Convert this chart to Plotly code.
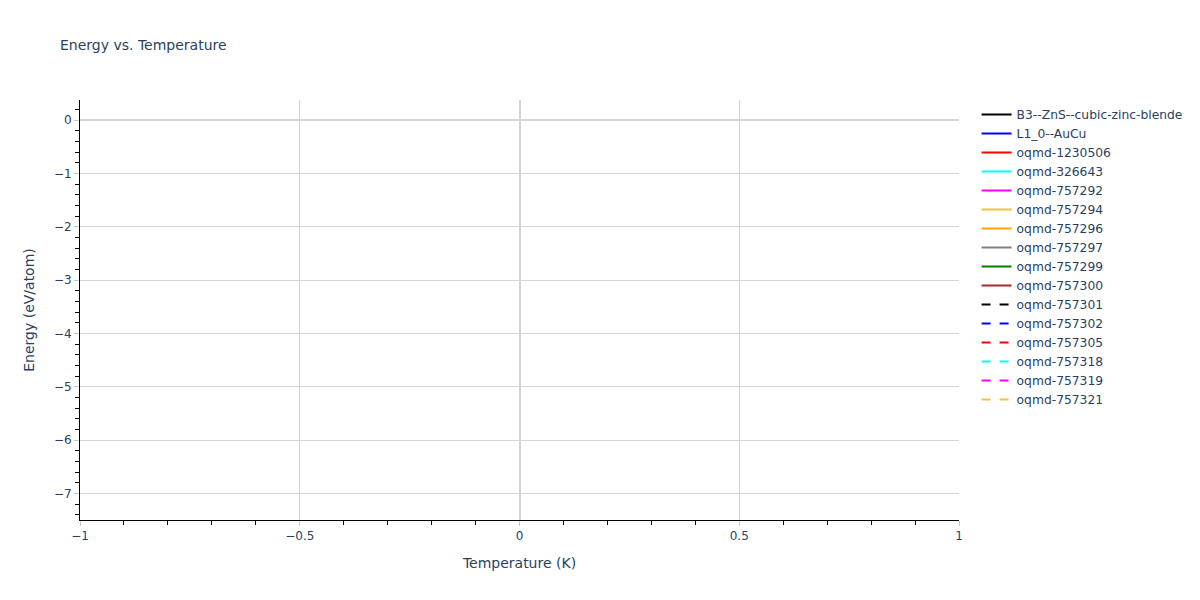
import plotly.graph_objects as go

names = ["B3--ZnS--cubic-zinc-blende", "L1_0--AuCu", "oqmd-1230506", "oqmd-326643",
         "oqmd-757292", "oqmd-757294", "oqmd-757296", "oqmd-757297", "oqmd-757299",
         "oqmd-757300", "oqmd-757301", "oqmd-757302", "oqmd-757305", "oqmd-757318",
         "oqmd-757319", "oqmd-757321"]
temperatures = [0.0]
energies = [-3.2, -3.6, 0.0, -2.9, -4.1, -5.0, -4.6, -5.6, -6.1, -3.9,
            -6.6, -4.4, -5.3, -7.16, -6.8, -2.4]
colors = ["black", "blue", "red", "cyan", "magenta", "#F0C43A", "orange", "gray",
          "green", "brown"]

fig = go.Figure()
for i, (n, e) in enumerate(zip(names, energies)):
    fig.add_trace(go.Scatter(
        x=temperatures, y=[e], mode="lines", name=n,
        line=dict(color=colors[i % len(colors)], width=2,
                  dash="solid" if i < len(colors) else "dash"),
    ))

axis_common = dict(
    showline=True, linecolor="black", linewidth=1,
    ticks="outside", tickcolor="#c8c8c8", ticklen=5,
    showgrid=True, gridcolor="lightgrey",
    zeroline=True, zerolinecolor="lightgrey", zerolinewidth=2,
    minor=dict(ticks="outside", tickcolor="black", ticklen=4, showgrid=False),
)

fig.update_layout(
    width=1200, height=600,
    font=dict(family="DejaVu Sans, Verdana, sans-serif", size=12, color="#2a3f5f"),
    title=dict(text="Energy vs. Temperature", font=dict(size=14)),
    legend=dict(font=dict(size=12.3)),
    plot_bgcolor="white", paper_bgcolor="white",
    xaxis=dict(title=dict(text="Temperature (K)"), range=[-1, 1], dtick=0.5,
               **axis_common),
    yaxis=dict(title=dict(text="Energy (eV/atom)"), range=[-7.5, 0.375], dtick=1,
               **axis_common),
)
fig.update_xaxes(minor_dtick=0.1)
fig.update_yaxes(minor_dtick=0.2)

fig.write_html("out.html", config={"displayModeBar": False},
               post_script="document.body.style.margin='0';")
